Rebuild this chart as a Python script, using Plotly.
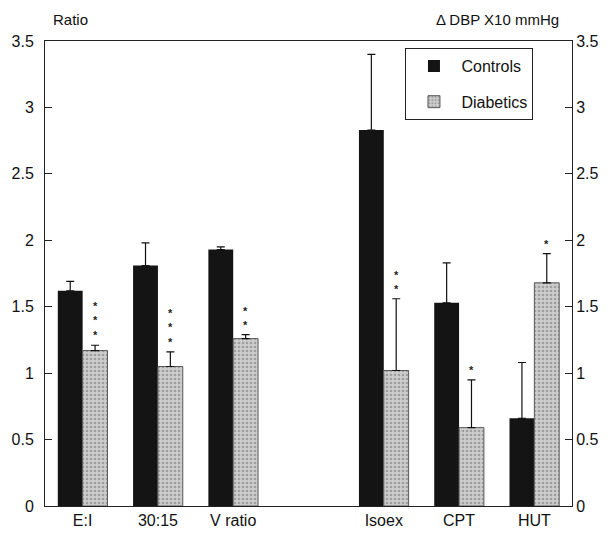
import plotly.graph_objects as go

# ---- data ----
ratio_tests = ["E:I", "30:15", "V ratio"]
dbp_tests = ["Isoex", "CPT", "HUT"]
gap = "\u00a0"
category_order = ratio_tests + [gap] + dbp_tests

ratio_controls = [1.62, 1.81, 1.93]
ratio_controls_err = [0.07, 0.17, 0.02]
ratio_diabetics = [1.17, 1.05, 1.26]
ratio_diabetics_err = [0.04, 0.11, 0.03]
ratio_stars = [3, 3, 2]

dbp_controls = [2.83, 1.53, 0.66]
dbp_controls_err = [0.57, 0.30, 0.42]
dbp_diabetics = [1.02, 0.59, 1.68]
dbp_diabetics_err = [0.54, 0.36, 0.22]
dbp_stars = [2, 1, 1]

y_ticks = [0, 0.5, 1, 1.5, 2, 2.5, 3, 3.5]

FONT = "Liberation Sans, Arial, sans-serif"
BLACK = "#141414"
diab_marker = dict(
    color="#c8c8c8",
    line=dict(color="#5a5a5a", width=1),
    pattern=dict(shape=".", fgcolor="#707070", bgcolor="#cdcdcd", size=4, solidity=0.35),
)
ctrl_marker = dict(color=BLACK, line=dict(color=BLACK, width=0))


def err(vals):
    return dict(type="data", array=vals, arrayminus=[0] * len(vals), symmetric=False,
                color="#111111", thickness=1.2, width=4)


fig = go.Figure()
fig.add_trace(go.Bar(name="Controls", x=ratio_tests + [gap], y=ratio_controls + [None],
                     marker=ctrl_marker, error_y=err(ratio_controls_err + [0]),
                     legendgroup="c", yaxis="y"))
fig.add_trace(go.Bar(name="Diabetics", x=ratio_tests + [gap], y=ratio_diabetics + [None],
                     marker=diab_marker, error_y=err(ratio_diabetics_err + [0]),
                     legendgroup="d", yaxis="y"))
fig.add_trace(go.Bar(name="Controls", x=dbp_tests, y=dbp_controls, marker=ctrl_marker,
                     error_y=err(dbp_controls_err), legendgroup="c", showlegend=False,
                     yaxis="y2"))
fig.add_trace(go.Bar(name="Diabetics", x=dbp_tests, y=dbp_diabetics, marker=diab_marker,
                     error_y=err(dbp_diabetics_err), legendgroup="d", showlegend=False,
                     yaxis="y2"))

annotations = []
for cats, vals, errs, stars, yref in [
    (ratio_tests, ratio_diabetics, ratio_diabetics_err, ratio_stars, "y"),
    (dbp_tests, dbp_diabetics, dbp_diabetics_err, dbp_stars, "y2"),
]:
    for c, v, e, s in zip(cats, vals, errs, stars):
        annotations.append(dict(
            x=c, y=v + e, xref="x", yref=yref, xshift=12.6, yshift=2,
            text="<br>".join(["<b>*</b>"] * s), showarrow=False, yanchor="bottom",
            font=dict(family=FONT, size=11, color="#222222"),
        ))

annotations.append(dict(x=0.012, y=1.0, xref="paper", yref="paper", yshift=11,
                        text="Ratio", showarrow=False, xanchor="left", yanchor="bottom",
                        font=dict(family=FONT, size=15, color="#111111")))
annotations.append(dict(x=1.0, y=1.0, xref="paper", yref="paper", yshift=11, xshift=-11,
                        text="\u0394 DBP X10 mmHg", showarrow=False, xanchor="right",
                        yanchor="bottom", font=dict(family=FONT, size=15, color="#111111")))

axis_common = dict(range=[0, 3.5], tickvals=y_ticks, ticktext=[f"{t:g}" for t in y_ticks],
                   ticks="inside", ticklen=7, tickcolor="#222222", showline=True,
                   linecolor="#222222", linewidth=1, showgrid=False, zeroline=False)

fig.update_layout(
    width=611, height=541,
    margin=dict(l=43, r=31, t=41, b=33),
    paper_bgcolor="white", plot_bgcolor="white",
    barmode="group", bargap=0.34, bargroupgap=0,
    font=dict(family=FONT, color="#111111"),
    xaxis=dict(type="category", categoryorder="array", categoryarray=category_order,
               showline=True, linecolor="#222222", linewidth=1, mirror=True,
               ticks="", showgrid=False,
               tickfont=dict(family=FONT, size=16, color="#111111")),
    yaxis=dict(side="left", ticklabelstandoff=7,
               tickfont=dict(family=FONT, size=16, color="#111111"), **axis_common),
    yaxis2=dict(side="right", overlaying="y", ticklabelstandoff=0,
                tickfont=dict(family=FONT, size=16, color="#111111"), **axis_common),
    legend=dict(x=0.684, y=0.985, xanchor="left", yanchor="top",
                bordercolor="#222222", borderwidth=1, bgcolor="white",
                font=dict(family=FONT, size=16, color="#111111"),
                tracegroupgap=12, itemwidth=45),
    annotations=annotations,
)

fig.write_html("out.html", config={"displayModeBar": False},
               post_script="document.body.style.margin='0';")
